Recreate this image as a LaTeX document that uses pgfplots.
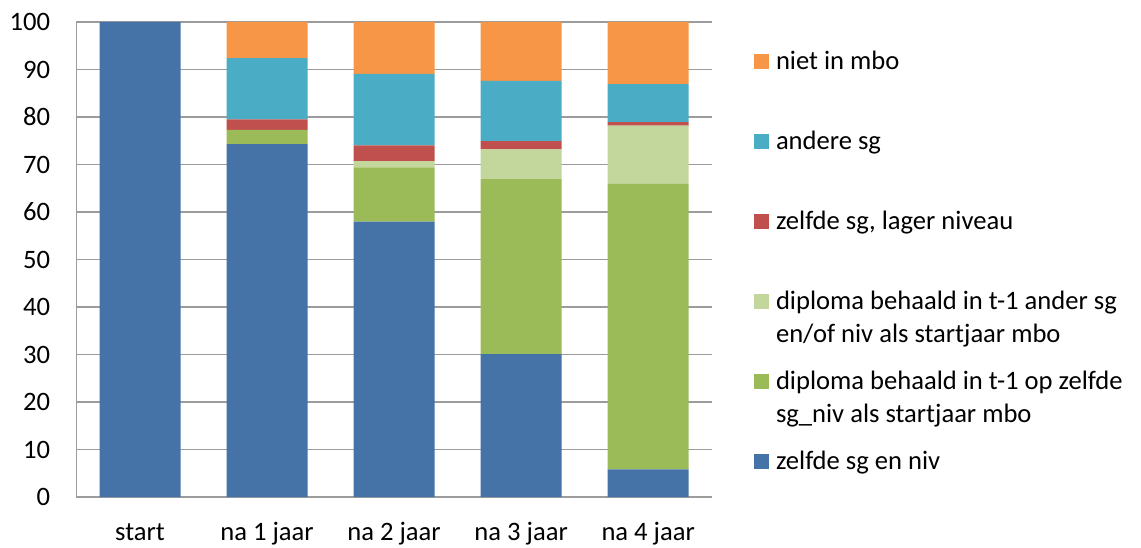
\documentclass[border=0pt]{standalone}
\usepackage{pgfplots}
\pgfplotsset{compat=1.18}
\usepackage{pgfplotstable}
\usepackage{fontspec}
\setmainfont{Carlito}

\definecolor{cBlue}{HTML}{4572A7}
\definecolor{cGreen}{HTML}{9BBB59}
\definecolor{cLight}{HTML}{C3D69B}
\definecolor{cRed}{HTML}{C0504D}
\definecolor{cTeal}{HTML}{4BACC6}
\definecolor{cOrange}{HTML}{F79646}
\definecolor{cGrid}{HTML}{9C9C9C}

% shares per year, bottom segment first
\pgfplotstableread{
x  zelfde  dipzelf  dipander  lager  andere  niet
0  100     0        0         0      0       0
1  74.3    3.0      0         2.2    12.9    7.6
2  58.0    11.4     1.3       3.3    15.1    10.9
3  30.1    36.8     6.3       1.7    12.7    12.4
4  5.8     60.1     12.3      0.7    8.0     13.1
}\datatable

\newcommand{\twolines}[2]{\vtop{\baselineskip=16.5pt\hbox{#1}\hbox{#2}}}

\begin{document}
\fontsize{13.3}{15.5}\selectfont
\begin{tikzpicture}
\useasboundingbox (-38.25pt,-25pt) rectangle (532.25pt,248.5pt);
\begin{axis}[
  scale only axis,
  width=317.6pt, height=237.5pt,
  ybar stacked, bar width=40.5pt,
  xmin=-0.5, xmax=4.5,
  ymin=0, ymax=100,
  xtick=data,
  xticklabels={start,na 1 jaar,na 2 jaar,na 3 jaar,na 4 jaar},
  ytick={0,10,...,100},
  major tick length=0pt,
  axis x line*=bottom, axis y line*=left,
  axis line style={cGrid, line width=0.8pt, -},
  ymajorgrids, grid style={cGrid, line width=0.8pt},
  /pgf/number format/assume math mode=true,
  yticklabel style={inner sep=0pt, xshift=-13pt},
  xticklabel style={anchor=base, inner sep=0pt, yshift=-21.5pt},
  legend image code/.code={\fill[#1,draw=none] (0pt,0pt) rectangle (7.25pt,7.5pt);},
  reverse legend,
  legend style={draw=none, fill=none, inner sep=0pt, outer sep=0pt,
    at={(1.0666,0.94316)}, anchor=north west,
    row sep=0pt, column sep=3.75pt,
    nodes={inner sep=0pt, text height=10pt, text depth=30pt},
    cells={anchor=base west}},
]
\addplot[fill=cBlue, draw=none] table[x=x, y=zelfde] {\datatable};
\addlegendentry{zelfde sg en niv}
\addplot[fill=cGreen, draw=none] table[x=x, y=dipzelf] {\datatable};
\addlegendentry{\twolines{diploma behaald in t-1 op zelfde}{sg\_niv als startjaar mbo}}
\addplot[fill=cLight, draw=none] table[x=x, y=dipander] {\datatable};
\addlegendentry{\twolines{diploma behaald in t-1 ander sg}{en/of niv als startjaar mbo}}
\addplot[fill=cRed, draw=none] table[x=x, y=lager] {\datatable};
\addlegendentry{zelfde sg, lager niveau}
\addplot[fill=cTeal, draw=none] table[x=x, y=andere] {\datatable};
\addlegendentry{andere sg}
\addplot[fill=cOrange, draw=none] table[x=x, y=niet] {\datatable};
\addlegendentry{niet in mbo}
\end{axis}
\end{tikzpicture}
\end{document}
